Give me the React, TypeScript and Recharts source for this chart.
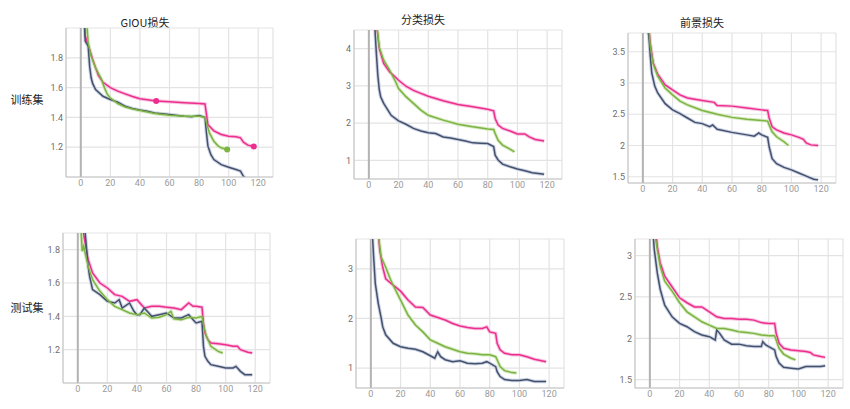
import React from 'react';
import {
  LineChart,
  Line,
  XAxis,
  YAxis,
  CartesianGrid,
  ReferenceLine,
  ReferenceDot
} from 'recharts';

type Pt = [number, number];

// epoch ticks shared by every panel
const EPOCH_TICKS = [0, 20, 40, 60, 80, 100, 120];
const ROW_LABELS = ['训练集', '测试集'];
const TITLES = ['GIOU损失', '分类损失', '前景损失'];

// ---- training set ----
const giouTrainPink: Pt[] = [[1, 2.3], [3, 1.95], [4.3, 1.905], [6, 1.856], [8, 1.79], [10, 1.733], [12, 1.68], [15, 1.636], [20, 1.6], [25, 1.576], [30, 1.558], [35, 1.54], [40, 1.525], [45, 1.518], [51, 1.51], [60, 1.505], [70, 1.498], [80, 1.493], [84, 1.49], [85, 1.42], [86, 1.35], [88, 1.33], [90, 1.31], [95, 1.285], [100, 1.274], [105, 1.27], [108, 1.263], [110, 1.234], [113, 1.214], [117, 1.205]];
const giouTrainGreen: Pt[] = [[2, 2.3], [5, 1.9], [7, 1.81], [10, 1.733], [14, 1.655], [16, 1.6], [18, 1.554], [20, 1.53], [25, 1.493], [30, 1.47], [35, 1.457], [40, 1.446], [50, 1.426], [60, 1.415], [70, 1.408], [80, 1.408], [84, 1.4], [85, 1.363], [87, 1.296], [90, 1.24], [93, 1.207], [95, 1.196], [99, 1.184]];
const giouTrainNavy: Pt[] = [[1, 2.3], [3, 1.912], [5, 1.878], [6, 1.744], [7, 1.666], [8, 1.628], [10, 1.587], [15, 1.542], [20, 1.52], [25, 1.502], [30, 1.475], [35, 1.46], [40, 1.449], [45, 1.442], [50, 1.43], [60, 1.42], [70, 1.408], [75, 1.404], [80, 1.413], [84, 1.4], [85, 1.295], [86, 1.207], [88, 1.15], [90, 1.117], [95, 1.083], [100, 1.066], [105, 1.05], [108, 1.04], [110, 1.005], [114, 0.97], [118, 0.95]];
const giouTrainMarkers: { series: 'pink' | 'green'; epoch: number }[] = [
  { series: 'pink', epoch: 51 },
  { series: 'pink', epoch: 117 },
  { series: 'green', epoch: 99 }
];

const clsTrainPink: Pt[] = [[5, 4.7], [7, 4.0], [10, 3.6], [14, 3.375], [20, 3.15], [25, 2.99], [30, 2.88], [35, 2.8], [40, 2.72], [45, 2.66], [50, 2.6], [60, 2.5], [70, 2.44], [80, 2.37], [84, 2.33], [85, 2.125], [87, 1.95], [90, 1.86], [95, 1.79], [100, 1.71], [105, 1.71], [108, 1.63], [112, 1.56], [118, 1.52]];
const clsTrainGreen: Pt[] = [[5, 4.8], [7, 4.04], [10, 3.69], [14, 3.42], [18, 3.11], [20, 2.93], [25, 2.71], [30, 2.53], [35, 2.35], [40, 2.21], [50, 2.08], [60, 1.97], [70, 1.9], [80, 1.84], [84, 1.83], [85, 1.72], [87, 1.54], [90, 1.41], [95, 1.3], [98, 1.23]];
const clsTrainNavy: Pt[] = [[4, 4.6], [5, 3.9], [6, 3.3], [7, 2.9], [8, 2.7], [10, 2.53], [15, 2.21], [20, 2.06], [25, 1.97], [30, 1.86], [35, 1.79], [40, 1.74], [45, 1.72], [50, 1.63], [55, 1.6], [60, 1.56], [65, 1.52], [70, 1.47], [75, 1.46], [80, 1.45], [84, 1.37], [85, 1.14], [87, 1.01], [90, 0.9], [95, 0.83], [100, 0.77], [105, 0.72], [110, 0.67], [118, 0.625]];

const fgTrainPink: Pt[] = [[4, 3.9], [5, 3.64], [7, 3.32], [10, 3.14], [15, 2.97], [20, 2.89], [25, 2.81], [30, 2.76], [40, 2.72], [48, 2.69], [50, 2.64], [60, 2.63], [70, 2.6], [80, 2.57], [84, 2.56], [85, 2.44], [87, 2.3], [90, 2.25], [95, 2.2], [100, 2.17], [105, 2.13], [108, 2.1], [110, 2.04], [113, 2.01], [118, 2.0]];
const fgTrainGreen: Pt[] = [[4, 3.9], [5, 3.59], [7, 3.3], [10, 3.11], [15, 2.92], [20, 2.81], [25, 2.71], [30, 2.65], [40, 2.56], [50, 2.5], [60, 2.45], [70, 2.42], [80, 2.4], [84, 2.39], [85, 2.33], [87, 2.22], [90, 2.14], [95, 2.06], [98, 2.0]];
const fgTrainNavy: Pt[] = [[3, 3.9], [4, 3.75], [5, 3.43], [6, 3.16], [8, 2.95], [10, 2.84], [15, 2.67], [20, 2.57], [25, 2.51], [30, 2.44], [35, 2.37], [40, 2.35], [45, 2.3], [47, 2.33], [50, 2.26], [60, 2.21], [70, 2.17], [75, 2.15], [78, 2.2], [80, 2.17], [84, 2.13], [85, 1.98], [87, 1.79], [90, 1.71], [95, 1.65], [100, 1.61], [105, 1.56], [110, 1.51], [115, 1.46], [118, 1.45]];

// ---- test set ----
const giouTestPink: Pt[] = [[3, 1.95], [4, 1.89], [5, 1.84], [7, 1.74], [10, 1.66], [15, 1.6], [20, 1.57], [25, 1.53], [30, 1.52], [35, 1.49], [40, 1.5], [45, 1.45], [50, 1.46], [55, 1.46], [60, 1.455], [65, 1.45], [70, 1.44], [75, 1.48], [78, 1.46], [80, 1.46], [84, 1.455], [85, 1.36], [86, 1.3], [88, 1.26], [90, 1.24], [95, 1.235], [100, 1.23], [105, 1.22], [108, 1.22], [110, 1.2], [115, 1.185], [118, 1.18]];
const giouTestGreen: Pt[] = [[2, 1.95], [3, 1.79], [4, 1.82], [5, 1.78], [7, 1.7], [10, 1.62], [15, 1.55], [20, 1.5], [25, 1.46], [30, 1.44], [35, 1.42], [40, 1.41], [45, 1.42], [50, 1.39], [55, 1.395], [60, 1.41], [63, 1.43], [65, 1.385], [70, 1.38], [75, 1.395], [80, 1.39], [84, 1.4], [85, 1.35], [87, 1.28], [90, 1.22], [95, 1.19], [98, 1.18]];
const giouTestNavy: Pt[] = [[3, 1.95], [5, 1.9], [7, 1.7], [8, 1.64], [10, 1.56], [15, 1.53], [20, 1.49], [25, 1.48], [28, 1.5], [30, 1.45], [35, 1.48], [38, 1.43], [40, 1.41], [42, 1.41], [45, 1.45], [48, 1.42], [50, 1.4], [55, 1.41], [60, 1.42], [65, 1.39], [70, 1.39], [75, 1.41], [78, 1.38], [80, 1.36], [84, 1.37], [85, 1.22], [86, 1.16], [88, 1.13], [90, 1.11], [95, 1.1], [100, 1.09], [105, 1.09], [107, 1.1], [110, 1.07], [113, 1.05], [118, 1.05]];

const clsTestPink: Pt[] = [[5, 3.7], [6, 3.37], [8, 3.03], [10, 2.8], [15, 2.67], [20, 2.55], [25, 2.37], [30, 2.23], [35, 2.22], [40, 2.07], [45, 2.02], [50, 1.97], [55, 1.9], [60, 1.85], [65, 1.82], [70, 1.8], [75, 1.8], [78, 1.83], [80, 1.73], [84, 1.7], [85, 1.5], [87, 1.37], [90, 1.3], [95, 1.27], [100, 1.27], [105, 1.23], [110, 1.18], [118, 1.13]];
const clsTestGreen: Pt[] = [[5, 3.7], [7, 3.23], [10, 3.03], [13, 2.8], [15, 2.67], [20, 2.37], [25, 2.07], [30, 1.87], [35, 1.73], [40, 1.57], [45, 1.5], [50, 1.43], [55, 1.38], [60, 1.33], [65, 1.3], [70, 1.29], [75, 1.27], [80, 1.27], [84, 1.23], [85, 1.17], [87, 1.03], [90, 0.95], [95, 0.91], [98, 0.9]];
const clsTestNavy: Pt[] = [[1, 3.7], [2, 3.17], [3, 2.7], [5, 2.3], [7, 2.0], [8, 1.83], [10, 1.67], [15, 1.5], [20, 1.43], [25, 1.4], [30, 1.38], [35, 1.33], [40, 1.25], [43, 1.2], [45, 1.33], [47, 1.23], [50, 1.17], [55, 1.13], [60, 1.15], [65, 1.1], [70, 1.09], [75, 1.1], [78, 1.13], [80, 1.1], [84, 1.03], [85, 0.93], [87, 0.83], [90, 0.77], [95, 0.75], [100, 0.75], [105, 0.77], [110, 0.73], [118, 0.73]];

const fgTestPink: Pt[] = [[4, 3.3], [5, 3.11], [7, 2.91], [10, 2.75], [15, 2.62], [20, 2.49], [25, 2.43], [30, 2.38], [35, 2.38], [40, 2.32], [45, 2.26], [50, 2.24], [55, 2.24], [60, 2.23], [65, 2.23], [70, 2.22], [75, 2.19], [80, 2.18], [84, 2.18], [85, 2.06], [87, 1.94], [90, 1.88], [95, 1.86], [100, 1.85], [105, 1.84], [108, 1.83], [110, 1.8], [115, 1.78], [118, 1.77]];
const fgTestGreen: Pt[] = [[3, 3.3], [5, 3.07], [7, 2.87], [10, 2.69], [15, 2.57], [20, 2.43], [25, 2.32], [30, 2.26], [35, 2.2], [40, 2.16], [45, 2.12], [50, 2.12], [55, 2.1], [60, 2.08], [65, 2.07], [70, 2.06], [75, 2.04], [80, 2.03], [84, 2.03], [85, 1.98], [87, 1.88], [90, 1.81], [95, 1.76], [98, 1.74]];
const fgTestNavy: Pt[] = [[2, 3.3], [3, 3.07], [5, 2.79], [7, 2.59], [10, 2.4], [15, 2.26], [20, 2.18], [25, 2.14], [30, 2.08], [35, 2.04], [40, 2.02], [44, 1.98], [45, 2.1], [47, 2.06], [50, 1.98], [55, 1.93], [60, 1.93], [65, 1.91], [70, 1.9], [75, 1.9], [76, 1.96], [78, 1.92], [80, 1.9], [84, 1.86], [85, 1.78], [87, 1.7], [90, 1.65], [95, 1.64], [100, 1.63], [105, 1.66], [110, 1.66], [115, 1.66], [118, 1.67]];

const COLORS = {
  pink: { main: '#ec2f8f', faint: '#f7c2de' },
  navy: { main: '#45506a', faint: '#cbd3e6' },
  green: { main: '#7cb342', faint: '#d6eac2' }
};
const DRAW_ORDER: ('pink' | 'navy' | 'green')[] = ['pink', 'navy', 'green'];

const Y_W = 40;
const PAD_T = 2;
const PAD_R = 2;
const X_H = 20;
const FONT = 'Roboto, "Noto Sans CJK SC", sans-serif';

const toRows = (pts: Pt[]) => pts.map(([x, y]) => ({ x, y }));

interface PanelProps {
  left: number;
  top: number;
  w: number;
  h: number;
  yDomain: [number, number];
  yTicks: number[];
  series: { pink: Pt[]; green: Pt[]; navy: Pt[] };
  markers?: { series: 'pink' | 'green'; epoch: number }[];
}

const Panel: React.FC<PanelProps> = ({ left, top, w, h, yDomain, yTicks, series, markers = [] }) => (
  <div style={{ position: 'absolute', left: left - Y_W, top: top - PAD_T }}>
    <LineChart
      width={Y_W + w + PAD_R}
      height={PAD_T + h + X_H}
      margin={{ top: PAD_T, right: PAD_R, left: 0, bottom: 0 }}
    >
      <CartesianGrid stroke="#e3e3e3" strokeWidth={1.2} />
      <XAxis
        type="number"
        dataKey="x"
        domain={[-10, 130]}
        ticks={EPOCH_TICKS}
        allowDataOverflow
        height={X_H}
        tickLine={false}
        tickSize={2}
        tickMargin={1}
        axisLine={{ stroke: '#c4c4c4' }}
        tick={{ fontSize: 9, fill: '#9a9a9a', fontFamily: FONT }}
      />
      <YAxis
        type="number"
        domain={yDomain}
        ticks={yTicks}
        allowDataOverflow
        width={Y_W}
        tickLine={false}
        tickSize={2}
        tickMargin={1}
        axisLine={{ stroke: '#c4c4c4' }}
        tick={{ fontSize: 9, fill: '#6e6e6e', fontFamily: FONT }}
      />
      <ReferenceLine x={0} stroke="#b3b3b3" strokeWidth={2} />
      {DRAW_ORDER.map((k) => (
        <Line
          key={`faint-${k}`}
          data={toRows(series[k])}
          dataKey="y"
          type="linear"
          stroke={COLORS[k].faint}
          strokeWidth={3.5}
          dot={false}
          isAnimationActive={false}
        />
      ))}
      {DRAW_ORDER.map((k) => (
        <Line
          key={`main-${k}`}
          data={toRows(series[k])}
          dataKey="y"
          type="linear"
          stroke={COLORS[k].main}
          strokeWidth={1.5}
          dot={false}
          isAnimationActive={false}
        />
      ))}
      {markers.map((m, i) => {
        const p = series[m.series].find(([x]) => x === m.epoch);
        if (!p) return null;
        return (
          <ReferenceDot
            key={i}
            x={p[0]}
            y={p[1]}
            r={3}
            fill={COLORS[m.series].main}
            stroke="none"
          />
        );
      })}
    </LineChart>
  </div>
);

const textStyle: React.CSSProperties = {
  position: 'absolute',
  transform: 'translate(-50%, -50%)',
  whiteSpace: 'nowrap',
  fontSize: 11,
  lineHeight: 1,
  color: '#222',
  fontFamily: '"Noto Sans CJK SC", "Noto Sans", sans-serif'
};

export default function App() {
  return (
    <div style={{ position: 'absolute', left: 0, top: 0, width: 850, height: 409, background: '#fff', overflow: 'hidden' }}>
      <div style={{ ...textStyle, left: 145, top: 22 }}>{TITLES[0]}</div>
      <div style={{ ...textStyle, left: 423, top: 19 }}>{TITLES[1]}</div>
      <div style={{ ...textStyle, left: 702, top: 22 }}>{TITLES[2]}</div>
      <div style={{ ...textStyle, left: 27, top: 99 }}>{ROW_LABELS[0]}</div>
      <div style={{ ...textStyle, left: 27, top: 307 }}>{ROW_LABELS[1]}</div>

      <Panel left={66} top={28} w={207} h={149} yDomain={[1, 2]} yTicks={[1.2, 1.4, 1.6, 1.8]}
        series={{ pink: giouTrainPink, green: giouTrainGreen, navy: giouTrainNavy }} markers={giouTrainMarkers} />
      <Panel left={354} top={30} w={208} h={149} yDomain={[0.5, 4.5]} yTicks={[1, 2, 3, 4]}
        series={{ pink: clsTrainPink, green: clsTrainGreen, navy: clsTrainNavy }} />
      <Panel left={628} top={33} w={208} h={150} yDomain={[1.4, 3.8]} yTicks={[1.5, 2, 2.5, 3, 3.5]}
        series={{ pink: fgTrainPink, green: fgTrainGreen, navy: fgTrainNavy }} />

      <Panel left={63} top={233} w={207} h={150} yDomain={[1, 1.9]} yTicks={[1.2, 1.4, 1.6, 1.8]}
        series={{ pink: giouTestPink, green: giouTestGreen, navy: giouTestNavy }} />
      <Panel left={356} top={239} w={208} h={149} yDomain={[0.6, 3.6]} yTicks={[1, 2, 3]}
        series={{ pink: clsTestPink, green: clsTestGreen, navy: clsTestNavy }} />
      <Panel left={635} top={239} w={208} h={149} yDomain={[1.4, 3.2]} yTicks={[1.5, 2, 2.5, 3]}
        series={{ pink: fgTestPink, green: fgTestGreen, navy: fgTestNavy }} />
    </div>
  );
}
